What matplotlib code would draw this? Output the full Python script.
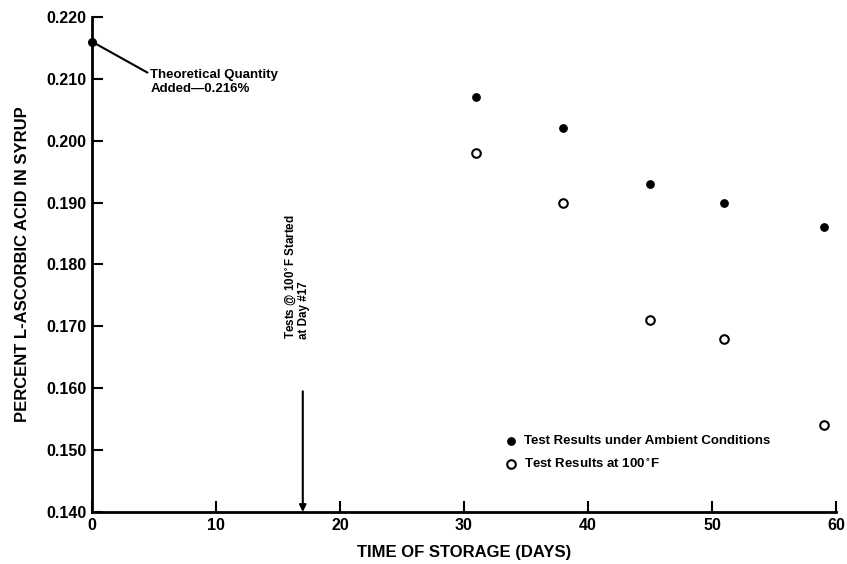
import matplotlib

matplotlib.use("Agg")
import matplotlib.pyplot as plt

days = [31, 38, 45, 51, 59]
ambient = [0.207, 0.202, 0.193, 0.190, 0.186]
hot_100f = [0.198, 0.190, 0.171, 0.168, 0.154]
theoretical_day = 0
theoretical_value = 0.216
start_day = 17
x_ticks = [0, 10, 20, 30, 40, 50, 60]
y_ticks = [0.140, 0.150, 0.160, 0.170, 0.180, 0.190, 0.200, 0.210, 0.220]

plt.rcParams["font.family"] = ["Liberation Sans", "DejaVu Sans"]
plt.rcParams["font.weight"] = "bold"

fig = plt.figure(figsize=(8.47, 5.64), dpi=100)
ax = fig.add_axes([0.1086, 0.0922, 0.8784, 0.8778])

ax.scatter(days, ambient, s=28, color="black", zorder=3,
           label="Test Results under Ambient Conditions")
ax.scatter(days, hot_100f, s=38, facecolors="white", edgecolors="black",
           linewidths=1.5, zorder=3, label="Test Results at 100$^{\\circ}$F")
ax.scatter([theoretical_day], [theoretical_value], s=30, color="black",
           zorder=4, clip_on=False)

ax.annotate("Theoretical Quantity\nAdded\u20140.216%",
            xy=(theoretical_day, theoretical_value), xytext=(4.7, 0.2095),
            fontsize=9.5, fontweight="bold", va="center", ha="left",
            arrowprops=dict(arrowstyle="-", color="black", lw=1.5,
                            shrinkA=0, shrinkB=3, relpos=(0.0, 0.8)))

ax.annotate("", xy=(start_day, 0.140), xytext=(start_day, 0.1595),
            arrowprops=dict(arrowstyle="-|>", color="black", lw=1.5,
                            mutation_scale=10, shrinkA=0, shrinkB=0))
ax.text(start_day - 0.45, 0.168, "Tests @ 100$^{\\circ}$F Started\nat Day #17",
        rotation=90, ha="center", va="bottom", multialignment="left",
        fontsize=8.4, fontweight="bold", linespacing=1.0)

ax.set_xlim(0, 60)
ax.set_ylim(0.140, 0.220)
ax.set_xticks(x_ticks)
ax.set_yticks(y_ticks)
ax.set_yticklabels([f"{v:.3f}" for v in y_ticks])
ax.tick_params(direction="in", length=8, width=1.5, labelsize=11.5, pad=4)
for label in ax.get_xticklabels() + ax.get_yticklabels():
    label.set_fontweight("bold")

ax.spines["top"].set_visible(False)
ax.spines["right"].set_visible(False)
ax.spines["left"].set_linewidth(2)
ax.spines["bottom"].set_linewidth(2)

ax.set_xlabel("TIME OF STORAGE (DAYS)", fontsize=12, fontweight="bold",
              labelpad=9)
ax.set_ylabel("PERCENT L-ASCORBIC ACID IN SYRUP", fontsize=12,
              fontweight="bold", labelpad=12)

ax.legend(loc="lower left", bbox_to_anchor=(0.545, 0.07), frameon=False,
          handletextpad=0.5, borderpad=0, labelspacing=0.75,
          handlelength=1.0, prop={"weight": "bold", "size": 9.5})

fig.savefig("out.png", dpi=100)
